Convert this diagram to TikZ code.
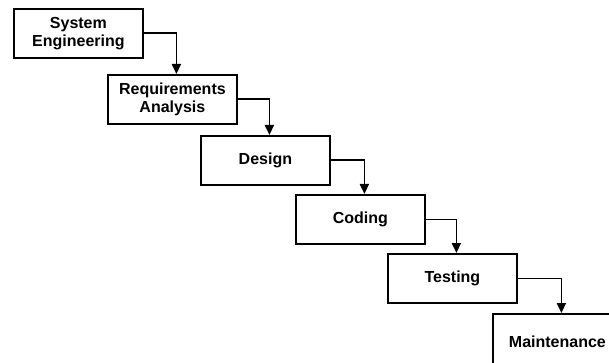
\documentclass[tikz,border=0pt]{standalone}
\usepackage{fontspec}
\setmainfont{Liberation Sans}
\usetikzlibrary{arrows.meta}
\begin{document}
\begin{tikzpicture}[x=1pt,y=-1pt,
  stage/.style={draw, line width=1.8pt, minimum width=129pt, minimum height=49pt,
    font=\bfseries\fontsize{16}{18}\selectfont, align=center, inner sep=0pt, anchor=north west},
  flow/.style={line width=1.8pt, -{Triangle[length=10pt,width=9pt]}}]
\useasboundingbox (0,0) rectangle (609,363);
\clip (0,0) rectangle (609,363);
\node[stage] (se) at (13,8) {System\\Engineering};
\node[stage] (ra) at (107,74) {Requirements\\Analysis};
\node[stage] (de) at (200,135) {Design};
\node[stage] (co) at (295,194) {Coding};
\node[stage] (te) at (387,253) {Testing};
\node[stage, minimum height=55pt] (ma) at (492,313) {Maintenance};
\draw[flow] (se.east) -| ([xshift=4pt]ra.north);
\draw[flow] (ra.east) -| ([xshift=4pt]de.north);
\draw[flow] (de.east) -| ([xshift=4pt]co.north);
\draw[flow] (co.east) -| ([xshift=4pt]te.north);
\draw[flow] (te.east) -| ([xshift=4pt]ma.north);
\end{tikzpicture}
\end{document}
